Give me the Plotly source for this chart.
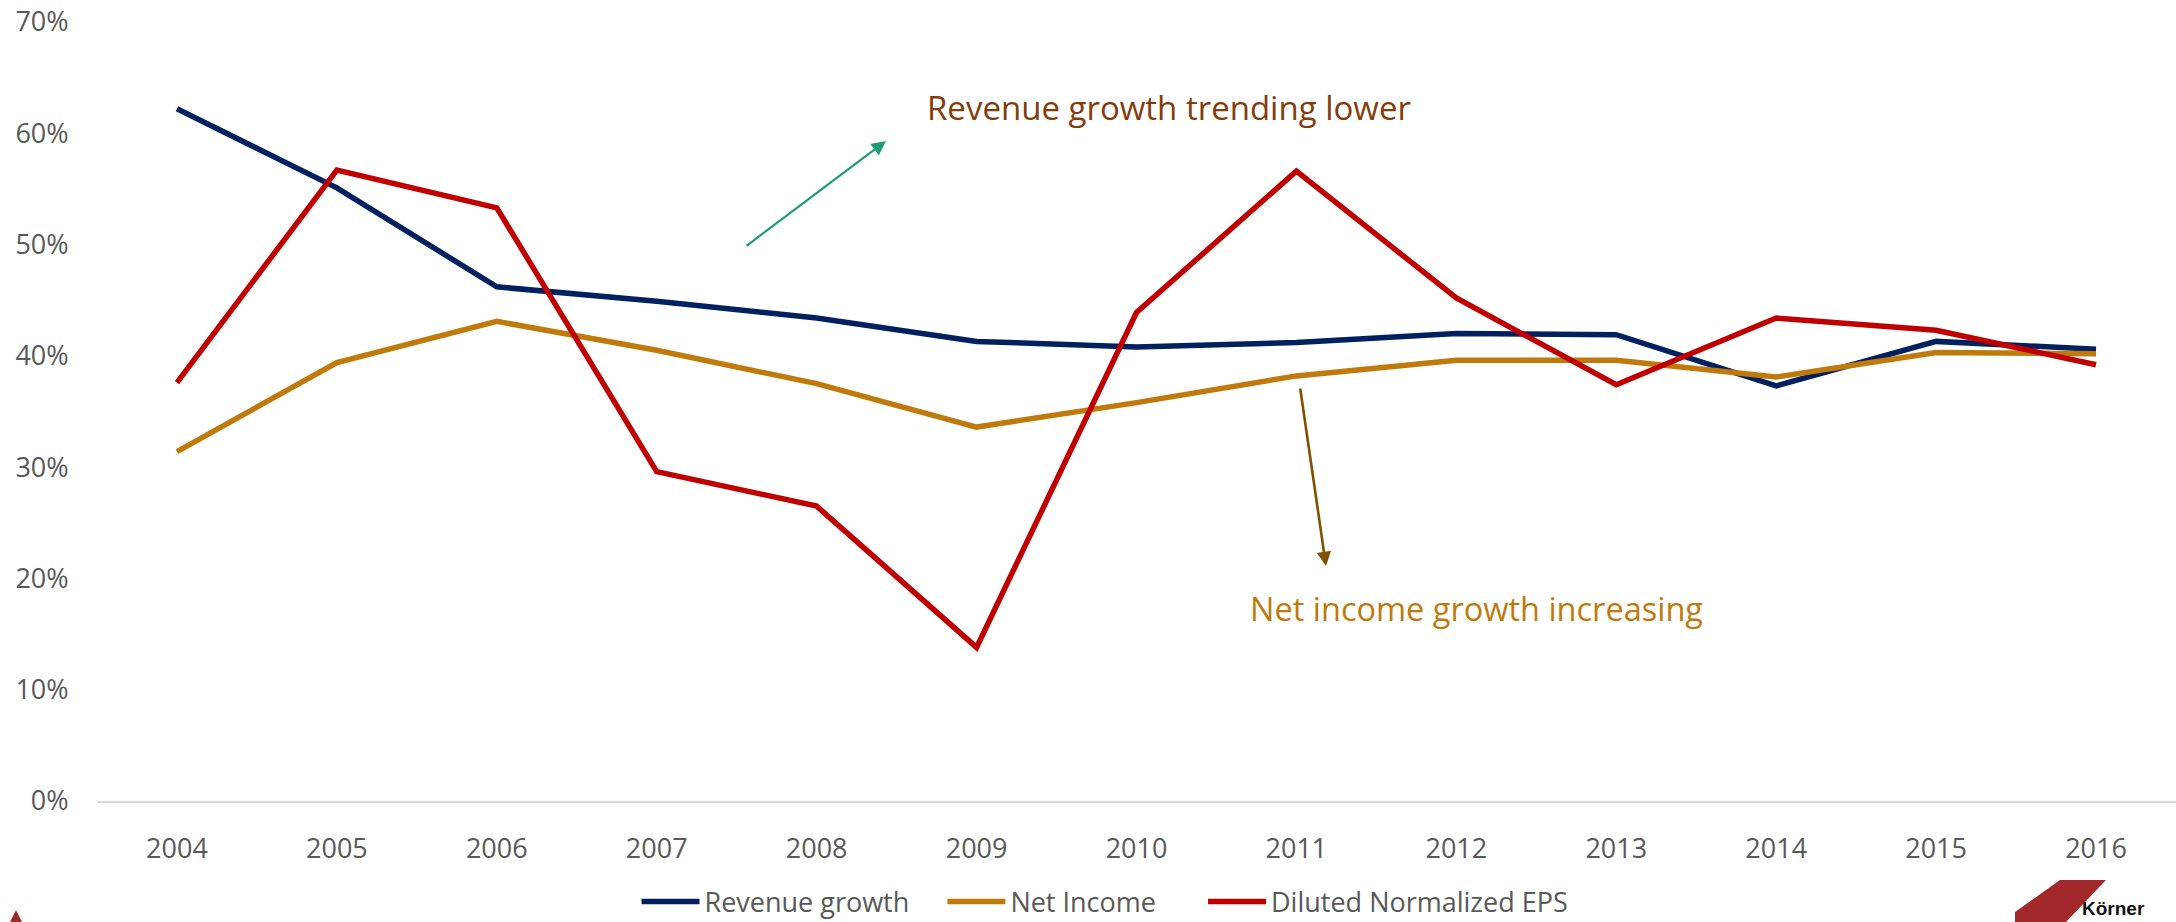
import plotly.graph_objects as go

years = ["2004", "2005", "2006", "2007", "2008", "2009", "2010",
         "2011", "2012", "2013", "2014", "2015", "2016"]
revenue_growth = [0.622, 0.551, 0.462, 0.449, 0.434, 0.413, 0.408,
                  0.412, 0.420, 0.419, 0.373, 0.413, 0.406]
net_income = [0.314, 0.394, 0.431, 0.405, 0.375, 0.336, 0.358,
              0.382, 0.396, 0.396, 0.381, 0.403, 0.402]
diluted_eps = [0.376, 0.567, 0.533, 0.296, 0.265, 0.138, 0.439,
               0.566, 0.452, 0.374, 0.434, 0.423, 0.392]

y_ticks = [0, 0.1, 0.2, 0.3, 0.4, 0.5, 0.6, 0.7]

FONT = "Open Sans"
TICK_COLOR = "#595959"
NB = "\u00a0"

fig = go.Figure()
fig.add_trace(go.Scatter(x=years, y=revenue_growth, mode="lines",
                         name="Revenue growth" + NB * 4,
                         line=dict(color="#002060", width=5.5)))
fig.add_trace(go.Scatter(x=years, y=net_income, mode="lines",
                         name="Net Income" + NB * 6,
                         line=dict(color="#C07A0C", width=5.5)))
fig.add_trace(go.Scatter(x=years, y=diluted_eps, mode="lines",
                         name="Diluted Normalized EPS",
                         line=dict(color="#C00000", width=5.5)))

W, H = 2176, 922
L, R, T, B = 97, 0, 22, 121
PW = W - L - R
PH = H - T - B


def px(x):
    return (x - L) / PW


def py(y):
    return (H - B - y) / PH


fig.update_layout(
    width=W, height=H,
    margin=dict(l=L, r=R, t=T, b=B, autoexpand=False),
    paper_bgcolor="white", plot_bgcolor="white",
    font=dict(family=FONT, size=27, color=TICK_COLOR),
    showlegend=True,
    legend=dict(orientation="h", x=px(1105), xanchor="center", y=py(902), yanchor="middle",
                font=dict(family=FONT, size=27, color=TICK_COLOR),
                itemwidth=58, bgcolor="rgba(0,0,0,0)"),
    xaxis=dict(type="category", range=[-0.5, len(years) - 0.5], autorange=False,
               showgrid=False, showline=True, linecolor="#D9D9D9", linewidth=2,
               ticks="outside", ticklen=23, tickcolor="rgba(0,0,0,0)", automargin=False,
               tickfont=dict(family=FONT, size=27, color=TICK_COLOR), zeroline=False),
    yaxis=dict(range=[0, 0.7], tickvals=y_ticks, tickformat=".0%", showgrid=False,
               zeroline=False, showline=False, ticks="outside", ticklen=22,
               tickcolor="rgba(0,0,0,0)", automargin=False,
               tickfont=dict(family=FONT, size=27, color=TICK_COLOR)),
)

fig.add_annotation(xref="paper", yref="paper", x=px(1169), y=py(107),
                   text="Revenue growth trending lower", showarrow=False,
                   font=dict(family=FONT, size=33, color="#843C0C"),
                   xanchor="center", yanchor="middle")
fig.add_annotation(xref="paper", yref="paper", x=px(886), y=py(141), text="",
                   showarrow=True, arrowhead=2, arrowsize=1.3, arrowwidth=2.2,
                   arrowcolor="#1F9B76", ax=-141, ay=106, axref="pixel", ayref="pixel")
fig.add_annotation(xref="paper", yref="paper", x=px(1476), y=py(608),
                   text="Net income growth increasing", showarrow=False,
                   font=dict(family=FONT, size=32.5, color="#C07A0C"),
                   xanchor="center", yanchor="middle")
fig.add_annotation(xref="paper", yref="paper", x=px(1326), y=py(566), text="",
                   showarrow=True, arrowhead=2, arrowsize=1.1, arrowwidth=2.6,
                   arrowcolor="#7F5000", ax=-26, ay=-179, axref="pixel", ayref="pixel")

# partial logos at the bottom corners
fig.add_shape(type="path", xref="paper", yref="paper", layer="above",
              path=f"M {px(2060)} {py(880)} L {px(2106)} {py(880)} L {px(2066)} {py(922)} "
                   f"L {px(2015)} {py(922)} L {px(2015)} {py(912)} Z",
              fillcolor="#A3282B", line=dict(width=0))
fig.add_annotation(xref="paper", yref="paper", x=px(2080), y=py(921), text="<b>Körner</b>",
                   showarrow=False, xanchor="left", yanchor="bottom",
                   font=dict(family="Liberation Sans", size=19, color="#111111"))
fig.add_shape(type="path", xref="paper", yref="paper", layer="above",
              path=f"M {px(10)} {py(922)} L {px(16)} {py(910)} L {px(22)} {py(922)} Z",
              fillcolor="#A3282B", line=dict(width=0))

fig.write_html("out.html")
